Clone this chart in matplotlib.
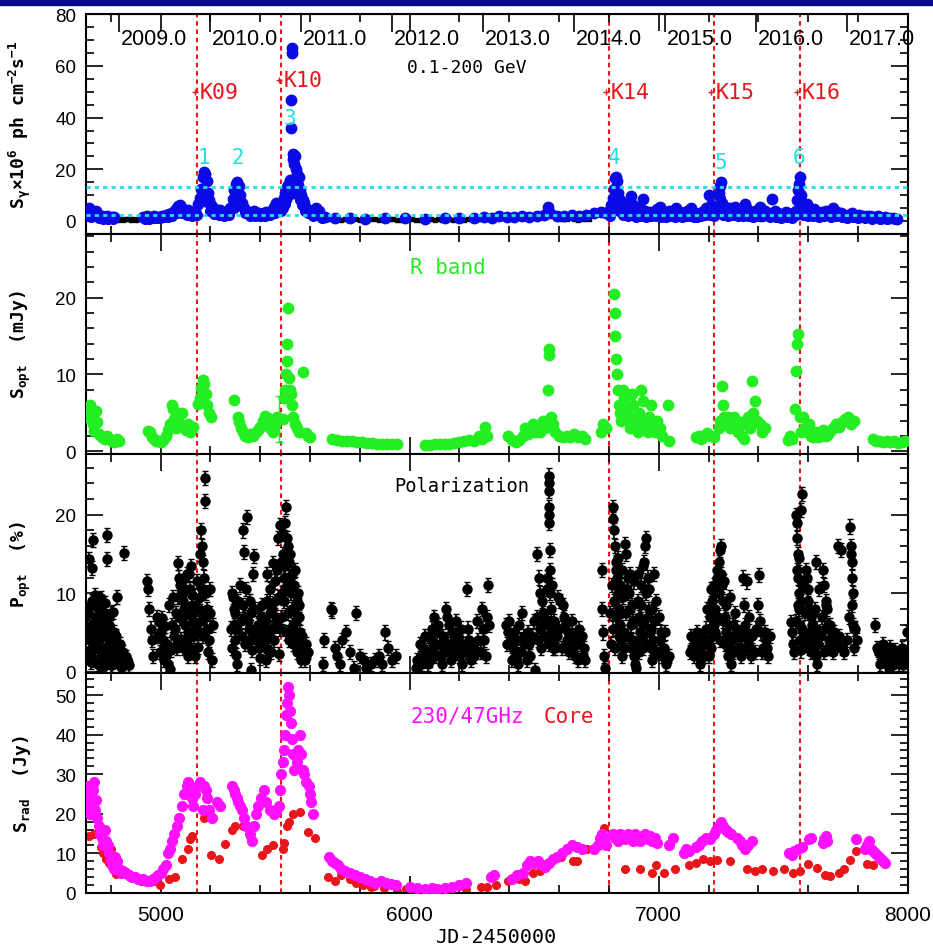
import numpy as np
import matplotlib.pyplot as plt
from matplotlib.ticker import MultipleLocator
from matplotlib.patches import Rectangle

# gamma-ray light curve (JD-2450000, flux x1e-6)
gam_jd = [4705,4712,4718,4725,4732,4740,4748,4756,4765,4775,4785,4795,4805,4815,
          4930,4945,4960,4975,4990,5005,5020,5035,5050,5060,5070,5080,5090,5100,5110,5120,5130,5140,
          5150,5158,5164,5170,5175,5180,5185,5190,5196,5204,5212,5220,5230,5240,5250,5260,5270,5280,
          5290,5296,5302,5308,5314,5320,5328,5336,5345,5355,5365,5375,5385,5395,5405,5415,5425,5435,
          5445,5455,5462,5470,5478,5486,5494,5500,5506,5512,5516,5520,5523,5525,5527,5528,5530,5533,
          5536,5540,5544,5548,5552,5556,5560,5565,5570,5575,5580,5588,5596,5605,5615,5625,5635,5645,
          5660,5700,5760,5820,5900,5980,6060,6140,6200,6260,6300,6330,6360,6390,6420,6450,6480,6510,
          6540,6555,6565,6590,6620,6650,6680,6710,6740,6770,6790,6800,6810,6816,6820,6824,6828,6832,
          6838,6845,6852,6860,6870,6880,6888,6896,6905,6915,6925,6935,6945,6955,6965,6975,6985,6995,
          7005,7015,7025,7040,7055,7070,7085,7100,7115,7130,7145,7160,7175,7190,7200,7210,7225,7235,
          7242,7246,7250,7256,7265,7275,7285,7295,7305,7315,7325,7335,7345,7355,7365,7375,7385,7395,
          7405,7415,7425,7440,7455,7465,7480,7495,7510,7525,7540,7550,7556,7560,7563,7566,7570,7576,
          7585,7595,7605,7615,7625,7640,7655,7670,7685,7700,7715,7730,7745,7760,7775,7790,7805,7820,
          7835,7850,7865,7880,7895,7910,7925,7940,7955]
gam_flux = [3.5,5.0,4.2,3.0,2.6,3.8,2.2,2.0,1.8,1.6,1.9,1.5,1.4,1.6,
            1.5,1.8,1.4,2.0,1.6,1.8,2.4,2.8,3.5,4.5,5.8,6.2,4.8,3.6,4.2,3.0,3.4,4.0,
            6.5,9.0,12.5,17.0,19.0,18.0,15.5,11.0,8.0,6.0,5.0,4.5,3.8,4.2,3.2,3.0,3.6,5.0,
            8.5,12.0,14.5,15.0,13.5,10.0,7.0,5.0,4.0,3.5,3.0,3.8,2.8,3.2,2.5,3.0,3.5,3.0,
            4.0,5.5,6.8,4.5,5.5,7.0,9.0,11.0,13.0,14.0,12.5,16.0,36.0,47.0,65.0,67.0,26.0,24.0,
            22.0,25.0,20.0,18.0,14.0,17.0,12.0,10.0,8.0,7.0,5.5,4.5,4.0,3.5,3.0,5.0,4.0,2.0,
            1.5,1.0,1.2,0.9,1.0,1.1,0.8,1.0,1.3,1.1,1.5,1.2,1.8,1.4,1.6,2.0,1.5,1.8,
            2.2,5.5,3.0,1.8,2.0,2.5,2.0,2.5,3.0,3.5,3.0,4.0,6.0,9.0,12.5,16.5,17.0,15.5,
            11.0,8.0,6.0,5.0,4.0,7.0,9.5,6.0,4.5,3.5,5.0,8.5,4.0,3.0,3.5,2.5,3.5,4.5,
            5.5,3.0,2.5,4.0,3.0,5.0,3.5,3.0,4.0,5.0,3.0,2.5,3.5,5.0,10.0,6.0,4.0,5.0,
            11.0,13.5,15.0,7.0,5.5,4.5,5.0,4.0,5.5,4.0,3.5,4.5,6.5,4.5,3.5,3.0,4.0,3.0,
            5.5,3.5,4.0,3.0,8.5,4.0,3.0,2.5,3.5,2.5,3.0,4.0,8.0,12.0,14.5,17.0,10.0,5.5,
            4.0,6.5,4.0,3.0,4.5,3.0,3.5,4.0,3.0,5.0,3.5,3.0,2.5,2.5,3.0,2.0,2.5,2.0,
            1.8,2.0,1.5,1.8,1.2,1.5,1.0,1.2,0.8]

# lower-lying gamma-ray points inside the dense band
gam_low_jd = [4708,4722,4736,4752,4770,4790,4808,4938,4952,4968,4982,4998,5012,5028,5044,5066,
              5086,5105,5125,5145,5168,5178,5188,5200,5216,5235,5255,5275,5293,5300,5311,5324,
              5340,5360,5380,5400,5420,5440,5458,5482,5490,5498,5504,5510,5518,5526,5534,5542,
              5550,5558,5568,5578,5592,5610,5630,5650,
              6805,6826,6842,6856,6875,6892,6910,6930,6950,6970,6990,7010,7030,7050,7065,7080,
              7095,7110,7125,7140,7155,7170,7185,7205,7220,7240,7248,7260,7280,7300,7320,7340,
              7360,7380,7400,7420,7445,7470,7490,7515,7535,7552,7568,7580,7600,7620,7645,7665,
              7690,7710,7735,7755,7780,7800,7828,7858,7888,7918,7948]
gam_low_flux = [2.0,1.5,2.2,1.0,0.8,0.9,0.7,0.9,0.8,1.0,1.0,1.2,1.5,1.6,2.0,3.0,
                3.0,2.5,2.0,2.5,9.0,11.0,7.5,4.0,2.8,2.5,2.0,2.5,5.0,9.0,10.5,6.0,
                3.0,2.0,2.0,1.8,2.0,2.2,3.0,4.0,5.0,6.5,8.0,9.5,10.5,12.0,14.0,12.0,
                10.0,8.0,6.0,4.0,3.0,2.0,2.5,1.0,
                2.0,10.0,4.0,2.5,2.0,3.0,1.5,2.0,1.5,1.8,2.0,1.5,1.5,2.0,1.5,2.0,
                1.5,2.0,1.8,1.5,1.5,2.0,2.5,2.5,2.0,6.0,9.0,2.5,2.0,2.5,2.0,2.0,
                1.8,1.5,1.8,2.0,1.5,1.5,1.2,1.5,1.2,2.5,7.0,2.5,2.0,1.8,1.5,2.0,
                1.5,1.8,1.5,1.2,1.5,1.2,1.0,0.9,0.8,0.7,0.6]

# gamma-ray upper limits (black)
ul_jd = [4830,4840,4850,4860,4870,4880,4890,4900,4910,4920,
         5665,5680,5695,5710,5725,5740,5755,5770,5785,5800,5815,5830,5845,5860,5875,5890,5905,5920,
         5935,5950,5965,5980,5995,6010,6025,6040,6055,6070,6085,6100,6115,6130,6145,6160,6175,6190,
         6205,6220,6235,6250,6265,6280,6600,6615,6630,6660,6675,6690,6705,6720,7030,7410,7935,7945,7955]
ul_flux = [0.5,0.8,0.3,0.6,0.9,0.4,0.7,0.5,0.8,0.6,
           0.6,0.8,0.4,0.7,0.5,0.9,0.3,0.6,0.8,0.5,0.7,0.4,0.6,0.9,0.5,0.7,0.3,0.6,
           0.8,0.5,0.4,0.7,0.6,0.9,0.5,0.3,0.7,0.6,0.8,0.4,0.6,0.5,0.7,0.9,0.4,0.6,
           0.8,0.5,0.7,0.6,0.4,0.8,0.9,0.6,0.8,0.7,0.5,0.9,0.6,0.8,0.7,0.8,0.6,0.9,0.7]

# optical R band flux (mJy)
opt_jd = [4705,4710,4716,4722,4728,4734,4740,4746,4752,4760,4768,4776,4786,4795,4805,4815,4825,4835,
          4950,4957,4964,4972,4980,4990,5000,5010,5020,5030,5038,5044,5048,5054,5062,5070,5078,5086,
          5094,5104,5112,5120,5130,5150,5157,5163,5170,5176,5182,5188,5196,5204,
          5293,5310,5316,5322,5330,5340,5350,5360,5370,5380,5390,5400,5410,5420,5430,5440,5450,5460,5468,
          5490,5495,5499,5503,5506,5508,5510,5514,5518,5522,5527,5533,5540,5546,5554,5573,5582,5592,5600,
          5690,5710,5730,5750,5770,5790,5810,5830,5850,5870,5890,5910,5930,5950,
          6060,6080,6100,6120,6140,6160,6180,6200,6220,6240,6260,6280,6290,6304,6310,
          6395,6410,6425,6440,6455,6465,6475,6485,6495,6505,6515,6525,6535,6545,6555,6558,6561,6566,
          6575,6585,6600,6615,6630,6645,6660,6675,6690,6705,6770,6778,6790,
          6820,6823,6826,6829,6832,6836,6840,6845,6850,6856,6862,6868,6874,6880,6886,6892,6898,6904,
          6910,6916,6922,6930,6936,6942,6948,6955,6962,6970,6978,6986,6995,7005,7012,7036,7040,
          7150,7160,7170,7180,7195,7210,7222,
          7242,7248,7254,7258,7264,7270,7278,7286,7294,7302,7310,7318,7326,7334,7342,7350,7358,7366,
          7373,7380,7388,7396,7405,7415,7425,
          7520,7528,7536,7546,7552,7556,7560,7566,7572,7580,7588,7596,7604,7612,7620,7630,7640,7650,
          7660,7670,7680,7690,7700,7712,7724,7736,7748,7760,7772,7785,
          7860,7872,7885,7900,7915,7930,7945,7960,7975,7990]
opt_flux = [4.5,5.5,6.0,5.0,3.5,2.6,5.2,3.8,2.3,2.0,1.7,1.6,2.0,1.6,1.3,1.2,1.6,1.3,
            2.7,2.5,1.9,1.6,1.4,1.3,1.2,1.5,2.0,2.8,3.6,6.0,5.5,4.2,3.0,4.5,3.5,5.0,
            3.0,2.8,3.5,2.5,3.2,6.2,7.0,8.2,9.3,8.8,7.5,6.0,5.0,4.5,
            6.7,4.5,3.8,3.0,2.5,2.0,1.8,2.2,2.0,2.4,2.8,3.2,4.0,4.6,4.3,3.0,2.5,3.5,4.5,
            4.2,7.0,8.0,10.0,11.8,14.0,18.7,9.5,8.0,7.5,6.0,4.5,3.5,3.0,2.5,10.3,2.4,2.0,1.8,
            1.6,1.5,1.4,1.3,1.3,1.2,1.2,1.1,1.1,1.0,1.0,1.0,0.9,1.0,
            0.8,0.8,0.9,0.9,1.0,1.0,1.1,1.2,1.3,1.5,1.4,2.0,1.6,3.2,2.0,
            2.0,1.5,1.2,1.5,2.0,3.0,2.2,2.8,3.5,2.5,3.0,2.5,4.0,3.0,8.0,12.5,13.3,4.5,
            3.5,2.5,2.0,1.8,2.0,1.8,2.2,1.8,2.0,1.6,2.5,3.5,3.0,
            20.5,18.0,15.0,12.0,10.0,8.0,6.0,5.0,4.0,8.0,7.0,6.0,5.0,4.0,3.0,7.5,6.0,4.5,
            3.5,2.5,5.0,8.0,6.5,4.0,3.0,2.5,4.5,6.0,3.5,2.5,4.0,3.0,2.0,6.0,1.4,
            1.8,2.0,1.6,2.0,2.4,2.0,1.8,
            3.0,4.0,8.5,6.0,4.5,3.5,4.5,3.0,4.0,4.5,3.0,2.5,3.8,2.0,1.6,3.5,4.5,3.0,
            9.2,5.0,6.5,4.0,3.5,2.5,3.0,
            1.5,2.0,1.6,5.5,10.5,14.0,15.3,4.5,2.5,4.5,3.0,2.5,3.5,2.0,1.8,2.5,1.8,2.0,
            2.8,2.0,2.2,2.8,3.0,3.5,3.2,3.8,4.2,4.5,3.5,4.0,
            1.6,1.4,1.3,1.2,1.3,1.2,1.3,1.1,1.2,1.3]

# optical polarization degree (%)
pol_jd = [4714,4724,4730,4737,4706,4715,4718,4722,4725,4728,4732,4740,4744,4748,4752,4756,4760,4764,
          4768,4784,4784,4776,4780,4788,4792,4796,4800,4804,4810,4812,4816,4820,4825,4832,4838,4844,
          4850,4855,4858,4866,4874,
          4945,4950,4955,4960,4965,4970,4985,4992,5000,5008,5015,5022,5030,5038,5045,5052,5060,5064,
          5070,5075,5080,5085,5090,5095,5100,5105,5110,5115,5120,5125,5130,5135,5140,5150,5155,5160,
          5163,5166,5170,5173,5178,5180,5183,5188,5195,5200,5205,5210,
          5285,5290,5293,5296,5300,5304,5308,5329,5348,5334,5377,5372,5365,5340,5355,5360,5385,5390,5395,
          5405,5410,5415,5420,5425,5429,5451,5440,5445,5460,5465,5472,5474,5478,5503,5498,5506,5510,
          5514,5518,5522,5526,5530,5490,5494,5486,5534,5538,5546,5550,5555,5560,5565,5570,5578,5585,5590,
          5652,5656,5685,5690,5700,5710,5720,5730,5745,5760,5775,5783,5800,5815,5825,5845,5860,5875,
          5890,5903,5915,5930,5945,
          6025,6035,6045,6055,6065,6075,6085,6099,6110,6125,6147,6150,6160,6170,6180,6190,6200,6210,
          6230,6240,6255,6270,6290,6314,6305,6320,
          6385,6395,6405,6415,6425,6435,6453,6465,6475,6485,6505,6512,6520,6525,6530,6540,
          6558,6558,6558,6558,6558,6558,6562,6565,6568,6572,6576,6580,6585,
          6595,6605,6615,6625,6635,6645,6655,6665,6675,6690,6700,
          6771,6773,6777,6780,6783,6815,6818,6821,6824,6827,6830,6833,6836,6840,6844,6848,6852,
          6865,6870,6875,6880,6885,6890,6895,6900,6905,6910,6950,6945,6940,6915,6920,6925,6930,6935,
          6955,6960,6965,6970,6975,6980,6990,7000,7010,7020,7030,7040,
          7125,7135,7145,7155,7165,7180,7194,7211,7200,
          7220,7225,7230,7235,7240,7245,7250,7255,7260,7265,7270,7275,7280,7285,7290,7300,7310,7320,7330,
          7337,7356,7345,7350,7360,7365,7370,7402,7397,7405,7410,7420,7430,7440,
          7530,7535,7552,7555,7557,7559,7561,7563,7565,7567,7569,7571,7576,7571,7590,7595,7600,7605,
          7610,7615,7620,7625,7630,7635,7631,7660,7665,7670,7675,7680,7685,7690,7672,7720,7732,
          7769,7770,7772,7774,7776,7778,7780,7782,7784,
          7870,7875,7885,7895,7905,7915,7925,7935,7945,7955,7965,7975,7985,7995]
pol_pct = [14.4,13.2,16.8,9.8,5.8,4.1,2.8,8.5,6.0,3.5,1.5,7.0,5.0,3.0,0.8,6.5,9.4,4.5,
           2.0,17.4,14.4,7.5,5.5,1.2,6.0,4.0,7.5,2.5,7.6,5.0,3.0,1.5,9.5,2.0,3.5,1.0,
           2.5,15.1,1.2,1.5,0.8,
           11.5,10.5,8.0,5.5,4.0,2.0,7.0,6.3,5.0,4.0,3.0,2.0,1.0,0.3,6.0,4.5,7.5,3.0,
           13.8,12.0,11.0,10.0,9.0,8.0,6.0,4.0,2.0,12.5,10.5,8.5,6.5,4.5,2.0,5.0,8.0,15.0,
           18.0,16.0,14.0,12.0,24.7,21.7,10.0,8.0,4.0,10.5,1.5,6.0,
           10.0,9.5,8.0,6.0,4.0,2.1,1.0,18.0,19.7,15.2,14.8,12.5,0.2,7.0,5.5,9.0,4.0,6.0,3.0,
           7.0,6.0,5.0,4.0,3.0,12.5,13.8,7.5,2.5,9.0,6.0,17.0,2.2,18.7,21.0,19.0,17.0,16.0,
           14.0,12.0,10.0,8.0,6.0,15.0,12.0,10.0,11.0,13.0,9.0,10.0,7.0,5.0,3.0,2.0,1.5,3.5,2.5,
           1.0,4.0,8.0,7.8,3.0,2.0,1.0,4.0,5.0,2.5,0.5,7.5,2.0,1.5,0.5,1.0,1.5,2.0,
           1.0,5.0,3.0,1.5,2.0,
           0.5,1.0,2.0,3.0,2.0,1.0,4.0,7.0,5.0,2.0,8.0,7.0,6.0,5.0,4.0,3.0,2.0,1.0,
           10.5,4.0,3.0,6.5,8.0,11.0,2.0,6.0,
           6.0,5.0,4.0,3.0,2.0,1.0,7.5,3.5,5.0,2.0,0.2,15.0,12.0,10.0,9.0,6.0,
           25.0,24.0,23.0,21.0,20.0,19.0,13.0,10.0,8.0,6.0,5.0,4.0,3.0,
           9.5,9.0,8.5,6.0,5.0,4.0,3.0,2.0,1.5,4.5,3.0,
           13.0,8.0,5.0,2.0,0.5,21.0,19.5,18.0,16.0,14.0,13.0,12.0,10.0,8.0,6.0,4.0,2.0,
           16.3,15.0,12.0,10.0,8.0,6.0,4.0,2.0,1.0,0.5,17.0,16.0,14.0,9.0,7.0,5.0,11.0,3.0,
           12.0,8.0,5.0,3.0,1.5,12.5,9.0,7.0,5.0,3.0,1.0,2.0,
           2.5,3.0,4.0,5.0,1.0,3.5,8.0,10.5,2.0,
           6.0,8.0,10.0,12.0,14.0,15.5,16.0,11.0,9.0,7.0,5.0,4.0,3.0,2.0,1.0,6.0,4.5,3.0,2.0,
           12.0,11.5,6.0,5.0,4.0,3.0,2.0,12.3,8.5,6.5,5.0,3.0,4.0,2.0,
           6.3,5.0,20.0,19.0,17.0,15.0,12.0,10.0,8.0,6.0,4.0,2.7,22.7,20.6,13.0,12.0,9.0,8.0,
           7.0,6.0,5.0,3.0,2.0,1.0,14.0,13.0,11.0,9.0,8.0,6.0,4.0,3.0,8.5,16.0,15.5,
           18.5,16.0,15.0,14.0,12.0,10.0,6.0,5.5,3.0,
           6.0,3.0,2.5,2.0,1.5,1.0,0.5,2.5,1.5,2.0,1.0,3.0,1.5,5.0]

# more polarization points filling the dense clusters
pol2_jd = [4703,4708,4713,4719,4726,4733,4738,4743,4747,4751,4755,4759,4763,4767,4771,4775,4779,4783,
           4787,4791,4795,4799,4803,4807,4813,4818,4823,4829,4835,4841,4847,4853,4862,4870,
           4988,4996,5004,5012,5018,5026,5034,5042,5048,5056,5068,5072,5078,5082,5088,5092,5098,5102,
           5108,5112,5118,5122,5128,5132,5138,5144,5148,5152,5158,5162,5168,5172,5176,5186,5192,5198,
           5282,5287,5298,5302,5312,5318,5322,5326,5332,5338,5344,5352,5358,5364,5368,5374,5380,5392,
           5398,5402,5408,5412,5418,5423,5428,5434,5438,5443,5448,5455,5458,5462,5468,5476,5480,5484,
           5488,5492,5496,5500,5504,5508,5512,5516,5520,5524,5528,5532,5536,5540,5544,5548,5552,5557,
           5562,5568,5574,5582,
           6030,6040,6050,6060,6070,6080,6090,6095,6105,6115,6120,6130,6135,6142,6155,6165,6175,6185,
           6195,6205,6215,6225,6235,6245,6260,6275,6285,6295,6300,6310,
           6390,6400,6410,6420,6430,6440,6448,6458,6470,6480,6490,6498,6510,6515,6522,6528,6535,6545,
           6550,6553,6555,6560,6563,6566,6570,6575,6580,6590,6600,6610,6620,6630,6640,6650,6660,6670,
           6680,6695,6705,
           6805,6810,6814,6817,6822,6826,6830,6835,6839,6843,6847,6851,6855,6858,6862,6868,6872,6878,
           6883,6887,6892,6898,6902,6908,6912,6918,6922,6928,6932,6938,6942,6948,6952,6958,6962,6968,
           6972,6978,6984,6995,7005,7015,7025,7035,
           7130,7140,7150,7160,7170,7185,7190,7198,7204,7208,7214,7218,7222,7227,7232,7237,7242,7247,
           7252,7257,7262,7267,7272,7277,7282,7287,7292,7297,7305,7315,7325,7335,7342,7352,7362,7375,
           7385,7392,7415,7425,7435,7445,
           7540,7545,7550,7554,7558,7562,7566,7570,7574,7580,7584,7588,7592,7598,7602,7608,7613,7618,
           7622,7628,7634,7640,7645,7650,7655,7662,7668,7678,7688,7695,7700,7705,7712,7725,7735,7745,
           7755,7765,7775,7788,7795,
           7880,7890,7900,7910,7920,7930,7940,7950,7960,7970,7980,7990]
pol2_pct = [2.0,7.5,4.8,1.2,9.0,5.5,3.0,8.2,1.0,4.2,7.8,2.5,6.2,0.6,4.8,8.8,3.2,5.8,
            2.4,7.0,1.6,3.8,5.2,0.9,3.6,2.2,4.6,1.4,3.0,0.6,1.8,0.9,1.9,1.2,
            4.5,2.5,6.8,1.5,5.8,3.5,8.5,2.8,9.5,5.5,3.5,9.5,6.8,4.2,11.5,3.0,10.5,7.2,
            12.5,5.0,3.0,13.5,9.8,7.5,5.8,8.5,11.5,3.2,9.5,6.5,10.5,4.5,7.0,5.5,2.5,7.5,
            5.5,3.0,7.5,5.5,9.0,11.0,6.5,4.5,8.5,3.5,10.5,6.5,4.0,7.5,2.8,5.0,8.0,5.5,
            1.8,3.8,8.5,4.5,6.5,1.5,9.0,4.5,10.5,5.5,8.0,4.0,11.5,7.0,13.0,9.5,5.5,14.0,
            7.0,17.5,9.0,13.5,5.0,11.0,7.5,4.0,15.0,5.5,12.5,3.5,8.0,4.5,6.5,2.5,4.0,8.5,
            1.5,4.5,3.0,2.0,
            1.5,3.5,1.0,4.5,2.5,1.5,5.5,3.0,2.0,6.0,3.5,1.0,4.5,2.5,3.5,1.5,2.5,6.5,
            4.5,5.5,3.5,2.5,5.5,1.5,2.0,4.0,2.5,5.5,4.0,7.0,
            3.5,6.5,1.5,5.0,4.0,6.0,2.5,4.5,1.5,3.5,4.5,6.5,7.0,4.0,5.5,3.0,7.5,4.5,
            10.5,12.0,6.5,3.5,15.5,5.0,11.0,3.0,6.5,4.5,5.5,3.0,7.0,4.0,2.5,6.5,4.5,3.5,
            5.5,2.0,1.5,
            7.5,3.5,11.0,5.5,9.0,3.0,7.0,14.5,4.5,11.0,7.5,13.0,5.0,9.5,3.0,7.5,10.5,4.5,
            12.5,3.0,8.5,6.5,11.5,3.5,6.5,12.5,2.5,8.5,4.5,13.5,6.0,10.0,3.5,7.0,10.5,5.5,
            8.0,4.0,6.5,2.5,4.0,2.0,5.0,1.5,
            4.5,2.0,3.5,2.5,4.5,2.0,5.5,4.0,7.0,3.0,9.0,4.5,11.0,5.0,13.0,7.0,10.0,4.0,
            12.5,6.5,11.5,3.5,8.5,2.0,6.0,9.5,4.0,2.5,7.5,5.5,4.5,3.0,8.5,3.0,7.0,4.5,
            2.5,5.5,2.5,5.0,3.0,4.5,
            3.5,2.5,6.5,13.0,8.5,14.5,4.0,9.0,5.5,11.0,3.5,7.5,4.5,10.5,3.0,5.0,2.5,7.5,
            4.0,8.0,5.5,3.5,10.5,4.5,7.0,2.5,5.5,3.0,6.0,4.5,2.5,5.0,3.5,4.5,3.0,2.5,
            4.0,7.0,8.5,5.5,4.0,
            2.8,1.0,3.5,2.5,1.8,3.2,0.8,2.8,1.6,2.2,0.8,2.5]

# 230 GHz total flux (Jy)
mm_jd = [4702,4706,4710,4714,4718,4722,4728,4734,4738,4742,4746,4752,4758,4764,4770,4776,
         4782,4788,4794,4800,4806,4812,4818,4824,4832,4840,4848,4860,4872,4885,4898,4910,
         4930,4945,4958,4970,4982,4990,5000,5010,5020,5030,5038,5045,5055,5065,5075,5085,5095,
         5105,5112,5118,5125,5132,5140,5150,5160,5172,5176,5182,5188,5195,5205,5225,5240,
         5288,5294,5300,5306,5312,5318,5326,5334,5343,5360,5368,5376,5384,5392,5405,5415,5425,
         5440,5455,5465,5474,5480,5485,5490,5494,5498,5502,5506,5510,5514,5518,5522,5526,5530,
         5536,5546,5552,5558,5564,5570,5576,5582,5595,5600,5605,5610,
         5678,5690,5702,5714,5726,5740,5760,5780,5800,5820,5840,5860,5885,5905,5925,5945,
         6000,6030,6060,6090,6110,6140,6170,6200,6225,6325,6340,6410,6430,6455,
         6470,6485,6500,6515,6530,6545,6560,6575,6590,6610,6630,6650,6670,6690,
         6740,6755,6765,6772,6780,6790,6815,6825,6835,6845,6855,6865,6875,6885,6895,6905,
         6915,6925,6935,6945,6955,6965,6975,6985,6995,7040,7058,7100,7110,7120,
         7150,7160,7175,7190,7205,7220,7230,7240,7250,7260,7270,7280,7290,
         7315,7325,7335,7345,7360,7375,7525,7535,7545,7560,7575,7605,7612,7660,7665,7670,7675,
         7790,7830,7838,7845,7852,7860,7868,7876,7884,7892,7900,7908]
mm_flux = [23.0,25.0,27.0,22.0,20.0,24.0,26.0,28.0,21.0,23.5,19.0,17.0,15.0,14.0,12.0,16.0,
           13.0,12.0,10.0,8.0,7.0,6.0,9.0,8.0,6.0,5.0,5.5,5.0,4.5,4.0,4.0,3.5,
           3.5,3.0,3.0,3.5,4.0,4.5,5.0,6.0,7.0,10.0,11.0,13.0,15.0,17.0,19.0,22.0,25.0,
           27.0,28.0,26.0,24.0,22.0,25.0,27.0,28.0,21.0,27.0,26.0,24.0,21.0,19.0,23.0,22.0,
           27.0,26.0,25.0,24.0,23.0,22.0,21.0,19.0,17.0,15.0,13.0,17.0,20.0,22.0,24.0,26.0,23.0,
           21.0,20.0,20.5,22.0,26.0,30.0,33.0,36.0,40.0,45.0,48.0,52.0,50.0,46.0,43.0,39.0,35.0,
           31.0,33.0,36.0,40.0,35.0,31.0,30.0,28.0,27.0,25.0,23.0,20.0,
           9.0,8.0,7.5,7.0,6.0,5.5,5.0,4.5,4.0,3.5,3.0,2.5,3.0,2.5,2.3,2.0,
           1.5,1.2,1.0,1.2,1.0,1.2,1.5,2.0,2.5,4.0,4.5,3.5,4.5,5.0,
           7.0,8.0,7.5,8.0,7.0,6.5,7.5,8.5,9.0,10.0,11.0,12.0,11.5,11.0,
           11.0,12.0,14.0,15.0,13.5,12.0,15.0,14.0,13.0,15.0,14.0,13.5,15.0,14.0,13.0,15.0,
           14.5,13.0,14.0,15.0,13.5,14.5,13.0,14.0,12.5,12.0,14.0,10.0,11.0,10.5,
           11.5,12.0,13.0,14.0,13.5,15.0,16.0,17.0,18.0,17.0,16.0,15.5,15.0,
           14.0,13.0,12.0,11.0,12.0,13.0,10.0,9.5,10.5,11.0,11.5,13.5,14.0,12.5,13.5,14.5,13.0,
           13.5,11.0,12.0,13.0,11.0,10.5,10.0,9.5,9.0,8.5,8.0,7.5]

# 47 GHz core flux (Jy)
core_jd = [4714,4731,4760,4767,4779,4791,4803,4820,4863,4879,4922,4946,4975,4999,5035,5059,5085,
           5109,5118,5126,5173,5202,5236,5257,5286,5298,5329,5358,5408,5429,5453,5491,5496,5508,
           5515,5532,5561,5592,5621,5671,5699,5723,5759,5783,5812,5843,5855,5898,5950,5986,5998,
           6070,6118,6161,6225,6285,6309,6345,6393,6441,6465,6496,6524,6608,6656,6673,6711,6780,
           6823,6866,6926,6974,6991,7022,7067,7122,7151,7177,7206,7234,7285,7356,7385,7414,7457,
           7504,7541,7567,7600,7635,7667,7688,7722,7742,7768,7792,7836,7862]
core_flux = [14.5,15.0,11.5,10.0,8.5,7.5,11.0,4.8,5.0,4.0,3.0,3.1,3.0,2.0,3.5,4.0,8.5,
             11.0,13.5,14.5,19.0,9.5,8.5,12.3,16.0,17.0,17.0,14.5,9.5,11.0,12.0,11.0,12.5,17.0,
             18.0,20.0,20.5,15.5,14.0,4.0,3.0,4.5,3.5,2.5,2.0,1.5,1.8,1.2,0.5,1.0,0.8,
             0.5,0.5,0.8,1.0,1.5,1.5,2.0,3.0,3.5,3.0,5.0,5.5,9.0,8.0,8.0,11.0,16.5,
             14.0,6.0,6.0,5.0,7.0,5.0,6.0,7.0,7.5,8.5,8.0,8.3,8.0,6.0,5.5,6.0,5.5,
             6.0,5.0,5.5,7.2,6.3,4.5,4.2,5.0,6.0,8.3,10.6,7.3,7.0]

# superluminal knot ejection epochs
knot_names = ["K09", "K10", "K14", "K15", "K16"]
knot_jd = [5147, 5485, 6800, 7220, 7566]
knot_lab_y = [50, 54.5, 50, 50, 50]

# gamma-ray flare labels
flare_names = ["1", "2", "3", "4", "5", "6"]
flare_jd = [5173, 5312, 5520, 6823, 7249, 7564]
flare_lab_y = [24.7, 24.7, 40, 24.7, 22.7, 24.7]

years = [2009, 2010, 2011, 2012, 2013, 2014, 2015, 2016, 2017]


def jd2yr(jd):
    return 2009.0 + (np.asarray(jd) - 4832.5) / 365.25


def yr2jd(yr):
    return 4832.5 + (np.asarray(yr) - 2009.0) * 365.25


plt.rcParams['font.family'] = 'Liberation Sans'
plt.rcParams['mathtext.fontset'] = 'custom'
plt.rcParams['mathtext.rm'] = 'DejaVu Sans Mono:bold'
plt.rcParams['mathtext.it'] = 'DejaVu Sans Mono:bold'
plt.rcParams['mathtext.default'] = 'regular'

fig, axes = plt.subplots(4, 1, sharex=True, figsize=(9.33, 9.53), dpi=100)
plt.subplots_adjust(left=0.092, right=0.973, top=0.984, bottom=0.062, hspace=0)
ax1, ax2, ax3, ax4 = axes

# slide header bar
fig.patches.append(Rectangle((0, 0.9935), 1, 0.0065, transform=fig.transFigure,
                             color='#0a0a8c', zorder=10))

red = '#e8151b'
cyan = '#20e0e0'
mono = 'DejaVu Sans Mono'

for ax in axes:
    ax.set_xlim(4700, 8000)
    ax.xaxis.set_major_locator(MultipleLocator(1000))
    ax.xaxis.set_minor_locator(MultipleLocator(200))
    ax.tick_params(which='both', direction='in', top=True, right=True, labelsize=13.5, pad=7, width=1.2)
    ax.tick_params(which='major', length=12)
    ax.tick_params(which='minor', length=6)
    for s in ax.spines.values():
        s.set_linewidth(1.5)
    for k in knot_jd:
        ax.axvline(k, color=red, ls=(0, (2.2, 1.8)), lw=1.5, zorder=1)
    ax.yaxis.set_label_coords(-0.064, 0.5)

ax4.tick_params(axis='x', labelsize=15, pad=9)

# panel 1: gamma rays
ax1.errorbar(ul_jd, ul_flux, yerr=0.6, fmt='s', color='black', ms=3.5, lw=1, zorder=2)
ax1.plot(gam_low_jd, gam_low_flux, 'o', color='#0a0ae6', ms=7, zorder=3)
ax1.plot(gam_jd, gam_flux, 'o', color='#0a0ae6', ms=7.5, zorder=3)
ax1.axhline(13.3, color=cyan, ls=(0, (1.5, 1.5)), lw=2, zorder=4)
ax1.axhline(2.3, color=cyan, ls=(0, (1.5, 1.5)), lw=2, zorder=4)
ax1.set_ylim(-5, 80)
ax1.yaxis.set_major_locator(MultipleLocator(20))
ax1.yaxis.set_minor_locator(MultipleLocator(5))
ax1.set_ylabel(r'S$_\gamma$$\times$10$^6$ ph cm$^{-2}$s$^{-1}$', family=mono, weight='bold', fontsize=13)
ax1.text(6231, 59.5, "0.1-200 GeV", family=mono, fontsize=13, ha='center', va='center')
for name, k, y in zip(knot_names, knot_jd, knot_lab_y):
    ax1.plot(k - 10, y, '+', color=red, ms=4, mew=1)
    ax1.text(k + 8, y, name, color=red, family=mono, fontsize=15.5, ha='left', va='center')
for name, x, y in zip(flare_names, flare_jd, flare_lab_y):
    ax1.text(x, y, name, color=cyan, family=mono, fontsize=15, ha='center', va='center')

yax = ax1.secondary_xaxis('top', functions=(jd2yr, yr2jd))
yax.set_xticks(years)
yax.tick_params(direction='in', length=13, width=1.2, labeltop=False)
yax.xaxis.set_minor_locator(plt.NullLocator())
for yr in years:
    ax1.text(yr2jd(yr) + 8, 70.5, f"{yr}.0", fontsize=15.5, ha='left', va='center')

# panel 2: optical flux
ax2.plot(opt_jd, opt_flux, 'o', color='#22ee22', ms=7.5, zorder=3)
ax2.errorbar([5477], [4.2], yerr=3.0, fmt='none', ecolor='#22ee22', capsize=3, lw=1)
ax2.set_ylim(-0.3, 28.3)
ax2.yaxis.set_major_locator(MultipleLocator(10))
ax2.yaxis.set_minor_locator(MultipleLocator(2))
ax2.set_ylabel(r'S$_{opt}$  (mJy)', family=mono, weight='bold', fontsize=13)
ax2.text(6155, 24, "R band", color='#22ee22', family=mono, fontsize=15, ha='center', va='center')

# panel 3: polarization
ax3.errorbar(pol2_jd, pol2_pct, yerr=0.9, fmt='o', color='black', ms=6.5, lw=1.2, capsize=2.5, zorder=3)
ax3.errorbar(pol_jd, pol_pct, yerr=0.9, fmt='o', color='black', ms=6.5, lw=1.2, capsize=2.5, zorder=3)
ax3.set_ylim(-0.2, 27.8)
ax3.yaxis.set_major_locator(MultipleLocator(10))
ax3.yaxis.set_minor_locator(MultipleLocator(2))
ax3.set_ylabel(r'P$_{opt}$  (%)', family=mono, weight='bold', fontsize=13)
ax3.text(6211, 23.7, "Polarization", family=mono, fontsize=13.5, ha='center', va='center')

# panel 4: radio
ax4.errorbar(mm_jd, mm_flux, yerr=1.0, fmt='o', color='#ff10ff', ms=7, lw=1, capsize=2.5, zorder=3)
ax4.errorbar(core_jd, core_flux, yerr=0.5, fmt='o', color=red, ms=5.5, lw=1, capsize=2, zorder=2)
ax4.set_ylim(0, 55.5)
ax4.yaxis.set_major_locator(MultipleLocator(10))
ax4.yaxis.set_minor_locator(MultipleLocator(2))
ax4.set_ylabel(r'S$_{rad}$  (Jy)', family=mono, weight='bold', fontsize=13)
ax4.text(6003, 44.7, "230/47GHz", color='#ff10ff', family=mono, fontsize=15, ha='left', va='center')
ax4.text(6537, 44.7, "Core", color=red, family=mono, fontsize=15, ha='left', va='center')
ax4.set_xlabel("JD-2450000", family=mono, fontsize=14.5, labelpad=2)

plt.savefig("out.png", dpi=100)
